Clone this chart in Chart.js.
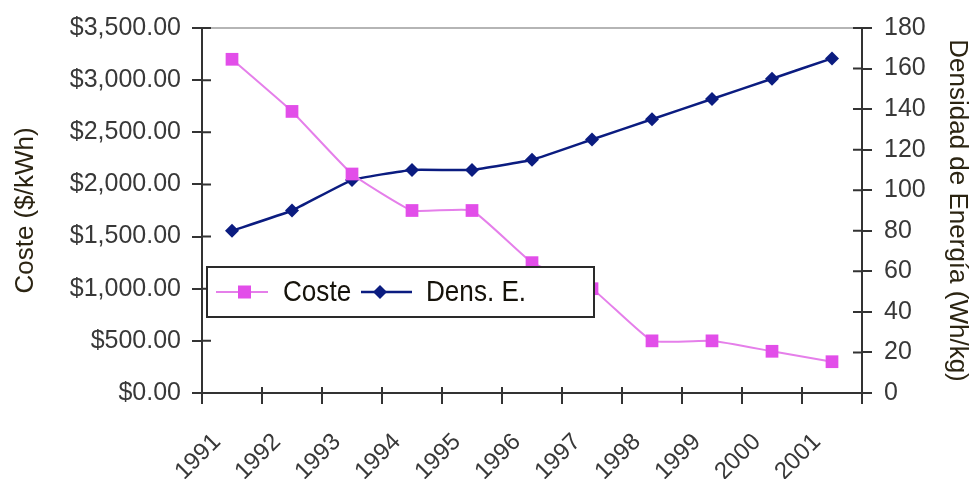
<!DOCTYPE html>
<html>
<head>
<meta charset="utf-8">
<script src="https://cdn.jsdelivr.net/npm/chart.js@4/dist/chart.umd.min.js"></script>
<style>
  html, body { margin: 0; padding: 0; background: #fff; }
  #wrap { width: 975px; height: 479px; position: relative; }
</style>
</head>
<body>
<div id="wrap"><canvas id="chart"></canvas></div>
<script>
// data
const years = ['1991', '1992', '1993', '1994', '1995', '1996', '1997', '1998', '1999', '2000', '2001'];
const coste = [3200, 2700, 2100, 1750, 1750, 1250, 1000, 500, 500, 400, 300];
const densidad = [80, 90, 105, 110, 110, 115, 125, 135, 145, 155, 165];
const costeTicks = [0, 500, 1000, 1500, 2000, 2500, 3000, 3500];
const densTicks = [0, 20, 40, 60, 80, 100, 120, 140, 160, 180];

const pinkLine = '#e57fea';
const pinkMark = '#e24ee9';
const navy = '#0b1c80';
const axisColor = '#333333';
const tickColor = '#383838';
const titleColor = '#2b2412';
const baseFont = '"Liberation Sans", Arial, sans-serif';

// inner halves of the tick marks, plus the thin top border
const frame = {
    id: 'frame',
    beforeDatasetsDraw(chart) {
        const { ctx, chartArea: a, scales } = chart;
        ctx.save();
        ctx.strokeStyle = '#9c9c9c';
        ctx.lineWidth = 1.5;
        ctx.beginPath();
        ctx.moveTo(a.left, a.top);
        ctx.lineTo(a.right, a.top);
        ctx.stroke();

        ctx.strokeStyle = axisColor;
        ctx.lineWidth = 2;
        ctx.beginPath();
        scales.y.ticks.forEach((t, i) => {
            const y = scales.y.getPixelForTick(i);
            ctx.moveTo(a.left, y); ctx.lineTo(a.left + 9, y);
        });
        scales.y1.ticks.forEach((t, i) => {
            const y = scales.y1.getPixelForTick(i);
            ctx.moveTo(a.right - 9, y); ctx.lineTo(a.right, y);
        });
        const half = (scales.x.getPixelForTick(1) - scales.x.getPixelForTick(0)) / 2;
        years.forEach((y, i) => {
            const x = scales.x.getPixelForTick(i) - half;
            ctx.moveTo(x, a.bottom - 6); ctx.lineTo(x, a.bottom);
        });
        ctx.stroke();
        ctx.restore();
    }
};

// boxed legend sitting inside the plot area
const boxLegend = {
    id: 'boxLegend',
    afterDatasetsDraw(chart) {
        const { ctx, chartArea: a } = chart;
        const x0 = a.left + 5, y0 = a.top + 239, w = 387, h = 50;
        const cy = y0 + h / 2;
        ctx.save();
        ctx.fillStyle = '#fff';
        ctx.fillRect(x0, y0, w, h);
        ctx.strokeStyle = '#2a2a2a';
        ctx.lineWidth = 2;
        ctx.strokeRect(x0, y0, w, h);

        ctx.lineWidth = 2;
        ctx.strokeStyle = pinkLine;
        ctx.beginPath(); ctx.moveTo(x0 + 9, cy); ctx.lineTo(x0 + 61, cy); ctx.stroke();
        ctx.fillStyle = pinkMark;
        ctx.fillRect(x0 + 31, cy - 6.5, 13, 13);

        ctx.lineWidth = 2.5;
        ctx.strokeStyle = navy;
        ctx.beginPath(); ctx.moveTo(x0 + 154, cy); ctx.lineTo(x0 + 205, cy); ctx.stroke();
        ctx.fillStyle = navy;
        ctx.beginPath();
        ctx.moveTo(x0 + 173, cy - 7); ctx.lineTo(x0 + 180, cy);
        ctx.lineTo(x0 + 173, cy + 7); ctx.lineTo(x0 + 166, cy);
        ctx.closePath(); ctx.fill();

        // the original legend font is a narrow face: squeeze it horizontally
        ctx.fillStyle = '#15120a';
        ctx.font = '30px ' + baseFont;
        ctx.textBaseline = 'middle';
        ctx.translate(x0, cy + 1);
        ctx.scale(0.87, 1);
        ctx.fillText('Coste', 76 / 0.87, 0);
        ctx.fillText('Dens. E.', 219 / 0.87, 0);
        ctx.restore();
    }
};

new Chart(document.getElementById('chart'), {
    type: 'line',
    data: {
        labels: years,
        datasets: [{
            label: 'Coste',
            data: coste,
            yAxisID: 'y',
            borderColor: pinkLine,
            borderWidth: 2,
            pointStyle: 'rect',
            pointRadius: 9,
            pointBackgroundColor: pinkMark,
            pointBorderWidth: 0,
            tension: 0.12
        }, {
            label: 'Dens. E.',
            data: densidad,
            yAxisID: 'y1',
            borderColor: navy,
            borderWidth: 2.5,
            pointStyle: 'rectRot',
            pointRadius: 7,
            pointBackgroundColor: navy,
            pointBorderWidth: 0,
            tension: 0.12
        }]
    },
    options: {
        responsive: true,
        maintainAspectRatio: false,
        animation: false,
        layout: { padding: { top: 28 } },
        plugins: { legend: { display: false }, tooltip: { enabled: false } },
        scales: {
            x: {
                offset: true,
                grid: { offset: true, drawOnChartArea: false, tickLength: 11, color: axisColor, lineWidth: 2 },
                border: { color: axisColor, width: 2 },
                ticks: {
                    autoSkip: false, maxRotation: 45, minRotation: 45,
                    labelOffset: -15, padding: 24,
                    color: tickColor, font: { family: baseFont, size: 24 }
                },
                afterFit: s => { s.height = 86; }
            },
            y: {
                position: 'left',
                min: 0, max: 3500,
                afterBuildTicks: s => { s.ticks = costeTicks.map(v => ({ value: v })); },
                grid: { drawOnChartArea: false, tickLength: 10, color: axisColor, lineWidth: 2 },
                border: { color: axisColor, width: 2 },
                ticks: {
                    padding: 11, color: tickColor, font: { family: baseFont, size: 25 },
                    callback: v => '$' + v.toLocaleString('en-US', { minimumFractionDigits: 2, maximumFractionDigits: 2 })
                },
                title: {
                    display: true, text: 'Coste ($/kWh)', color: titleColor,
                    font: { family: baseFont, size: 26 }, padding: { top: 10, bottom: 0 }
                },
                afterFit: s => { s.width = 202; }
            },
            y1: {
                position: 'right',
                min: 0, max: 180,
                afterBuildTicks: s => { s.ticks = densTicks.map(v => ({ value: v })); },
                grid: { drawOnChartArea: false, tickLength: 10, color: axisColor, lineWidth: 2 },
                border: { color: axisColor, width: 2 },
                ticks: { padding: 12, color: tickColor, font: { family: baseFont, size: 25 } },
                title: {
                    display: true, text: 'Densidad de Energía (Wh/kg)', color: titleColor,
                    font: { family: baseFont, size: 26 }, padding: { top: 2, bottom: 0 }
                },
                afterFit: s => { s.width = 113; }
            }
        }
    },
    plugins: [frame, boxLegend]
});
</script>
</body>
</html>
